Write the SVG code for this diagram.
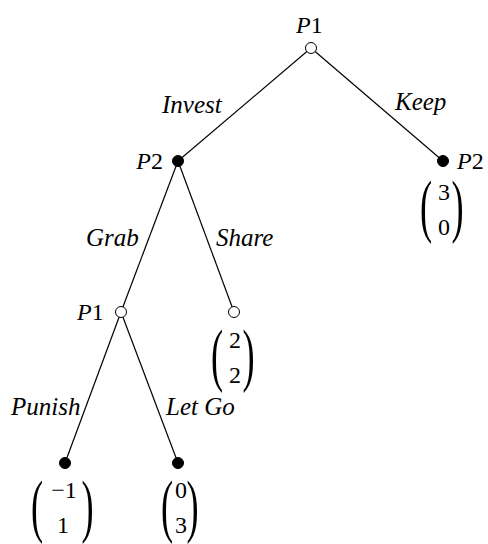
<svg xmlns="http://www.w3.org/2000/svg" width="488" height="544" viewBox="0 0 488 544" font-family="'Liberation Serif', 'Times New Roman', serif">
  <style>
    .edge { stroke: #000; stroke-width: 1.2; fill: none; }
    .open { fill: #fff; stroke: #000; stroke-width: 1; }
    .fill { fill: #000; stroke: #000; stroke-width: 1; }
    .lab, .pl, .num, .par { font-family: "Liberation Serif", "Times New Roman", serif; fill: #000; }
    .lab { font-size: 25px; font-style: italic; }
    .pl { font-size: 24px; }
    .v { font-style: italic; }
    .num { font-size: 24px; text-anchor: middle; }
    .par { font-size: 70px; }
  </style>
  <rect width="488" height="544" fill="#fff"/>

  <!-- tree edges -->
  <g id="edges">
    <line class="edge" x1="311" y1="48" x2="178" y2="161"/>
    <line class="edge" x1="311" y1="48" x2="443" y2="161"/>
    <line class="edge" x1="178" y1="161" x2="121" y2="312"/>
    <line class="edge" x1="178" y1="161" x2="234" y2="312"/>
    <line class="edge" x1="121" y1="312" x2="65" y2="463"/>
    <line class="edge" x1="121" y1="312" x2="178" y2="463"/>
  </g>

  <!-- edge labels -->
  <g id="edge-labels">
    <text class="lab" x="162" y="113">Invest</text>
    <text class="lab" x="395" y="110">Keep</text>
    <text class="lab" x="86" y="246">Grab</text>
    <text class="lab" x="216" y="246">Share</text>
    <text class="lab" x="11" y="415">Punish</text>
    <text class="lab" x="166" y="415">Let Go</text>
  </g>

  <g id="root">
    <circle class="open" cx="311" cy="48" r="5.5"/>
    <text class="pl" x="296" y="33"><tspan class="v">P</tspan>1</text>
  </g>

  <g id="p2-invest">
    <circle class="fill" cx="178" cy="161" r="5.5"/>
    <text class="pl" x="163" y="169" text-anchor="end"><tspan class="v">P</tspan>2</text>
  </g>

  <g id="p2-keep">
    <circle class="fill" cx="443" cy="161" r="5.5"/>
    <text class="pl" x="457" y="169"><tspan class="v">P</tspan>2</text>
    <text class="par" transform="translate(420,228.5) scale(0.52,1)">(</text>
    <text class="num" x="444" y="200">3</text>
    <text class="num" x="444" y="235">0</text>
    <text class="par" transform="translate(451.5,228.5) scale(0.52,1)">)</text>
  </g>

  <g id="p1-grab">
    <circle class="open" cx="121" cy="312" r="5.5"/>
    <text class="pl" x="77" y="320"><tspan class="v">P</tspan>1</text>
  </g>

  <g id="share">
    <circle class="open" cx="234" cy="312" r="5.5"/>
    <text class="par" transform="translate(211,377.5) scale(0.52,1)">(</text>
    <text class="num" x="235" y="348">2</text>
    <text class="num" x="235" y="383">2</text>
    <text class="par" transform="translate(242.5,377.5) scale(0.52,1)">)</text>
  </g>

  <g id="punish">
    <circle class="fill" cx="65" cy="463" r="5.5"/>
    <text class="par" transform="translate(31,528.5) scale(0.52,1)">(</text>
    <text class="num" x="64" y="498">−1</text>
    <text class="num" x="63" y="533">1</text>
    <text class="par" transform="translate(81.5,528.5) scale(0.52,1)">)</text>
  </g>

  <g id="let-go">
    <circle class="fill" cx="178" cy="463" r="5.5"/>
    <text class="par" transform="translate(161,528.5) scale(0.52,1)">(</text>
    <text class="num" x="181" y="498">0</text>
    <text class="num" x="181" y="533">3</text>
    <text class="par" transform="translate(186.5,528.5) scale(0.52,1)">)</text>
  </g>
</svg>
